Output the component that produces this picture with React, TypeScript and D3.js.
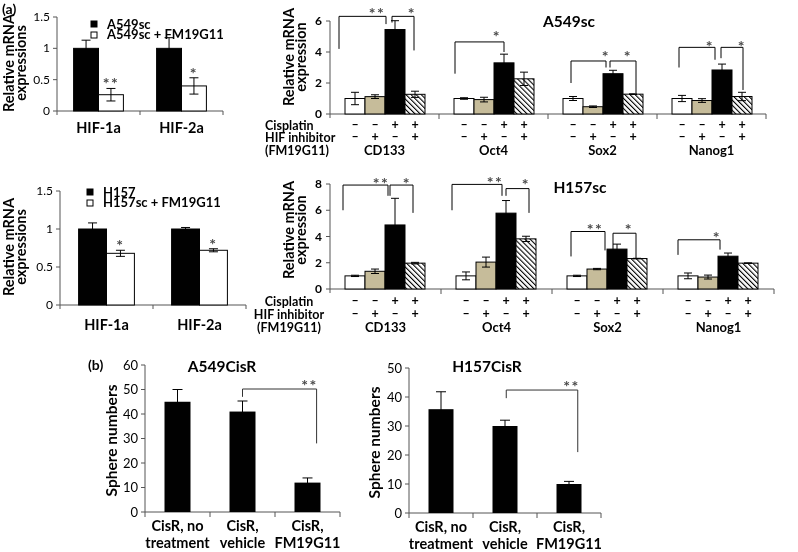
import React from "react";
import * as d3 from "d3";

const FONT = "Lato, 'Liberation Sans', Arial, sans-serif";

// ---------- Panel (a), left: HIF expression ----------
const hifGenes = ["HIF-1a", "HIF-2a"];
const hifTicks = [0, 0.5, 1, 1.5];
const a549Legend = ["A549sc", "A549sc + FM19G11"];
const a549Ctrl = [1.0, 1.0];
const a549CtrlErr = [0.13, 0.17];
const a549Fm = [0.26, 0.4];
const a549FmErr = [0.1, 0.13];
const a549HifStars = ["**", "*"];
const h157Legend = ["H157", "H157sc + FM19G11"];
const h157Ctrl = [1.0, 1.0];
const h157CtrlErr = [0.08, 0.02];
const h157Fm = [0.68, 0.72];
const h157FmErr = [0.04, 0.02];
const h157HifStars = ["*", "*"];

// ---------- Panel (a), right: stemness genes ----------
const stemGenes = ["CD133", "Oct4", "Sox2", "Nanog1"];
const conditions = ["control", "inhibitor", "cisplatin", "cisplatin+inhibitor"];
const cisplatinSigns = ["–", "–", "+", "+"];
const inhibitorSigns = ["–", "+", "–", "+"];
const rowLabels = ["Cisplatin", "HIF inhibitor", "(FM19G11)"];
const a549scTicks = [0, 2, 4, 6];
const a549scValues = [
  [1.0, 1.12, 5.45, 1.27],
  [1.0, 0.93, 3.3, 2.27],
  [1.0, 0.47, 2.6, 1.28],
  [1.0, 0.87, 2.84, 1.13],
];
const a549scErrors = [
  [0.4, 0.12, 0.57, 0.2],
  [0.05, 0.15, 0.56, 0.43],
  [0.13, 0.05, 0.22, 0.02],
  [0.2, 0.12, 0.38, 0.27],
];
// bracket: group, leg positions (in bar widths), top, leg bottoms, label, label position
const a549scBrackets = [
  { g: 0, x1: -0.3, x2: 2.05, top: 6.3, b1: 4.2, b2: 5.8, label: "**", lx: 1.6, ly: 6.7 },
  { g: 0, x1: 2.35, x2: 3.45, top: 6.3, b1: 5.9, b2: 4.1, label: "*", lx: 3.35, ly: 6.7 },
  { g: 1, x1: 0.05, x2: 2.5, top: 4.65, b1: 2.6, b2: 4.0, label: "*", lx: 2.15, ly: 5.2 },
  { g: 2, x1: 0.4, x2: 2.15, top: 3.42, b1: 2.0, b2: 3.0, label: "*", lx: 2.15, ly: 3.9 },
  { g: 2, x1: 2.35, x2: 3.65, top: 3.42, b1: 3.0, b2: 1.35, label: "*", lx: 3.25, ly: 3.9 },
  { g: 3, x1: 0.35, x2: 2.15, top: 4.3, b1: 3.0, b2: 3.5, label: "*", lx: 1.9, ly: 4.6 },
  { g: 3, x1: 2.45, x2: 3.55, top: 4.3, b1: 3.6, b2: 1.55, label: "*", lx: 3.5, ly: 4.6 },
];
const h157scTicks = [0, 2, 4, 6, 8];
const h157scValues = [
  [1.0, 1.35, 4.88, 1.97],
  [1.0, 2.05, 5.78, 3.82],
  [1.0, 1.52, 3.04, 2.32],
  [1.0, 0.91, 2.5, 1.97],
];
const h157scErrors = [
  [0.05, 0.17, 2.03, 0.06],
  [0.3, 0.38, 0.96, 0.2],
  [0.05, 0.05, 0.38, 0.02],
  [0.22, 0.15, 0.24, 0.02],
];
const h157scBrackets = [
  { g: 0, x1: -0.1, x2: 2.15, top: 7.92, b1: 6.0, b2: 7.1, label: "**", lx: 1.8, ly: 8.3 },
  { g: 0, x1: 2.25, x2: 3.4, top: 7.92, b1: 7.1, b2: 5.8, label: "*", lx: 3.1, ly: 8.3 },
  { g: 1, x1: -0.2, x2: 2.3, top: 7.97, b1: 6.0, b2: 7.1, label: "**", lx: 1.95, ly: 8.35 },
  { g: 1, x1: 2.5, x2: 3.65, top: 7.65, b1: 7.1, b2: 5.8, label: "*", lx: 3.5, ly: 8.2 },
  { g: 2, x1: 0.2, x2: 1.9, top: 4.38, b1: 2.48, b2: 2.94, label: "**", lx: 1.4, ly: 4.8 },
  { g: 2, x1: 2.3, x2: 3.45, top: 4.25, b1: 2.94, b2: 2.35, label: "*", lx: 3.1, ly: 4.75 },
  { g: 3, x1: 0.0, x2: 2.1, top: 3.75, b1: 2.6, b2: 3.0, label: "*", lx: 1.95, ly: 4.15 },
];

// ---------- Panel (b): sphere numbers ----------
const sphereCats = [["CisR, no", "treatment"], ["CisR,", "vehicle"], ["CisR,", "FM19G11"]];
const a549CisRTicks = [0, 10, 20, 30, 40, 50, 60];
const a549CisRValues = [45, 41, 12];
const a549CisRErrors = [5, 4.3, 1.9];
const a549CisRBracket = { i1: 1, f1: 0.5, i2: 2, f2: 0.85, top: 50.2, b1: 47, b2: 28, label: "**", li: 2, lf: 0.58, ly: 53 };
const h157CisRTicks = [0, 10, 20, 30, 40, 50];
const h157CisRValues = [35.8, 30, 10];
const h157CisRErrors = [6, 2, 0.9];
const h157CisRBracket = { i1: 1, f1: 0.55, i2: 2, f2: 0.85, top: 42.4, b1: 39.6, b2: 21, label: "**", li: 2, lf: 0.6, ly: 44.8 };

const TAN = "#c6bc9a";
const AXIS = "#555";
const STAR = "#4a4a4a";
const barFills = ["#fff", TAN, "#000", "url(#hatch)"];

function Stars({ x, y, text, size = 16 }: any) {
  return (
    <text x={x} y={y + size * 0.55} textAnchor="middle" fontSize={size} fontWeight="bold" fill={STAR} letterSpacing={1.5}>
      {text}
    </text>
  );
}

function ErrorBar({ x, yLo, yHi, cap }: any) {
  return (
    <g stroke="#000" strokeWidth={1}>
      <line x1={x} x2={x} y1={yLo} y2={yHi} />
      <line x1={x - cap / 2} x2={x + cap / 2} y1={yHi} y2={yHi} />
      <line x1={x - cap / 2} x2={x + cap / 2} y1={yLo} y2={yLo} />
    </g>
  );
}

function RotLabel({ x, y, lines, size, gap }: any) {
  return (
    <g>
      {lines.map((l: string, i: number) => (
        <text key={i} transform={`translate(${x + i * gap},${y}) rotate(-90)`} textAnchor="middle" fontSize={size} fontWeight="bold">
          {l}
        </text>
      ))}
    </g>
  );
}

function HifPanel({ ax, axEnd, y0, yTop, ctrl, ctrlErr, fm, fmErr, stars, legend, legX, legY, geneY, ylabX, ylabY }: any) {
  const y = d3.scaleLinear().domain([0, 1.5]).range([y0, yTop]);
  const x = d3.scaleBand().domain(hifGenes).range([ax, axEnd]);
  const bw = x.bandwidth() * 0.3;
  return (
    <g>
      <RotLabel x={ylabX} y={ylabY} lines={["Relative mRNA", "expressions"]} size={14.5} gap={12} />
      <line x1={ax} x2={ax} y1={y(1.5)} y2={y0} stroke={AXIS} />
      <line x1={ax} x2={axEnd} y1={y0} y2={y0} stroke={AXIS} />
      {hifTicks.map((t) => (
        <g key={t}>
          <line x1={ax - 4} x2={ax} y1={y(t)} y2={y(t)} stroke={AXIS} />
          <text x={ax - 7} y={y(t) + 4} textAnchor="end" fontSize={12}>{t}</text>
        </g>
      ))}
      {[ax, ax + x.bandwidth(), axEnd].map((t, i) => (
        <line key={i} x1={t} x2={t} y1={y0} y2={y0 + 4} stroke={AXIS} />
      ))}
      {hifGenes.map((g, i) => {
        const c = (x(g) as number) + x.bandwidth() / 2;
        return (
          <g key={g}>
            <rect x={c - bw} y={y(ctrl[i])} width={bw} height={y0 - y(ctrl[i])} fill="#000" stroke="#000" />
            <rect x={c} y={y(fm[i])} width={bw} height={y0 - y(fm[i])} fill="#fff" stroke="#000" />
            <ErrorBar x={c - bw / 2} yLo={y(ctrl[i] - ctrlErr[i])} yHi={y(ctrl[i] + ctrlErr[i])} cap={9} />
            <ErrorBar x={c + bw / 2} yLo={y(fm[i] - fmErr[i])} yHi={y(fm[i] + fmErr[i])} cap={9} />
            <Stars x={c + bw / 2} y={y(fm[i] + fmErr[i]) - 8} text={stars[i]} size={16} />
            <text x={c} y={geneY} textAnchor="middle" fontSize={14.5} fontWeight="bold">{g}</text>
          </g>
        );
      })}
      <rect x={legX} y={legY - 3} width={6} height={6} fill="#000" stroke="#000" />
      <text x={legX + 16} y={legY + 4.5} fontSize={13} fontWeight="bold">{legend[0]}</text>
      <rect x={legX} y={legY + 8} width={6} height={6} fill="#fff" stroke="#000" />
      <text x={legX + 16} y={legY + 15} fontSize={13} fontWeight="bold">{legend[1]}</text>
    </g>
  );
}

function StemPanel({ values, errors, brackets, ticks, yMax, title, titleX, titleY, ax, groupW, pad, barW, y0, yTop, rowY, rowAnchor, rowX, ylabY }: any) {
  const y = d3.scaleLinear().domain([0, yMax]).range([y0, yTop]);
  const x = d3.scaleBand().domain(stemGenes).range([ax, ax + groupW * 4]);
  const inner = d3.scaleBand().domain(conditions).range([pad, pad + barW * 4]);
  const bx = (g: number, f: number) => (x(stemGenes[g]) as number) + pad + f * barW;
  return (
    <g>
      <RotLabel x={ax - 36} y={ylabY} lines={["Relative mRNA", "expression"]} size={14.5} gap={12} />
      <text x={titleX} y={titleY + 5} textAnchor="middle" fontSize={15.5} fontWeight="bold">{title}</text>
      <line x1={ax} x2={ax} y1={y(yMax)} y2={y0 + 4} stroke={AXIS} />
      <line x1={ax} x2={ax + groupW * 4} y1={y0} y2={y0} stroke={AXIS} />
      {ticks.map((t: number) => (
        <g key={t}>
          <line x1={ax - 4} x2={ax} y1={y(t)} y2={y(t)} stroke={AXIS} />
          <text x={ax - 8} y={y(t) + 4} textAnchor="end" fontSize={12} fontWeight="bold">{t}</text>
        </g>
      ))}
      {stemGenes.map((g) => (
        <line key={g} x1={(x(g) as number) + groupW} x2={(x(g) as number) + groupW} y1={y0} y2={y0 + 5} stroke={AXIS} />
      ))}
      {stemGenes.map((g, gi) => (
        <g key={g}>
          {conditions.map((c, ci) => {
            const left = (x(g) as number) + (inner(c) as number);
            const v = values[gi][ci];
            const e = errors[gi][ci];
            return (
              <g key={c}>
                <rect x={left} y={y(v)} width={barW} height={y0 - y(v)} fill={barFills[ci]} stroke="#000" strokeWidth={1} />
                <ErrorBar x={left + barW / 2} yLo={y(v - e)} yHi={y(v + e)} cap={8} />
                <text x={left + barW / 2} y={rowY[0] + 4} textAnchor="middle" fontSize={12.5} fontWeight="bold">{cisplatinSigns[ci]}</text>
                <text x={left + barW / 2} y={rowY[1] + 4} textAnchor="middle" fontSize={12.5} fontWeight="bold">{inhibitorSigns[ci]}</text>
              </g>
            );
          })}
          <text x={(x(g) as number) + groupW / 2} y={rowY[2] + 4.5} textAnchor="middle" fontSize={13} fontWeight="bold">{g}</text>
        </g>
      ))}
      {rowLabels.map((l, i) => (
        <text key={l} x={rowX} y={rowY[i] + 4.5} textAnchor={rowAnchor} fontSize={12.5} fontWeight="bold">{l}</text>
      ))}
      {brackets.map((b: any, i: number) => (
        <g key={i}>
          <path
            d={`M${bx(b.g, b.x1)},${y(b.b1)}V${y(b.top)}H${bx(b.g, b.x2)}V${y(b.b2)}`}
            fill="none"
            stroke="#000"
            strokeWidth={1}
          />
          <Stars x={bx(b.g, b.lx)} y={y(b.ly)} text={b.label} size={16} />
        </g>
      ))}
    </g>
  );
}

function SpherePanel({ values, errors, ticks, yMax, bracket, title, titleX, titleY, ax, axEnd, y0, yTop, barW, ylabX }: any) {
  const y = d3.scaleLinear().domain([0, yMax]).range([y0, yTop]);
  const x = d3.scaleBand().domain(sphereCats.map((_, i) => String(i))).range([ax, axEnd]);
  const left = (i: number) => (x(String(i)) as number) + (x.bandwidth() - barW) / 2;
  const b = bracket;
  return (
    <g>
      <RotLabel x={ylabX} y={(y0 + yTop) / 2 + 2} lines={["Sphere numbers"]} size={15.5} gap={0} />
      <text x={titleX} y={titleY + 5} textAnchor="middle" fontSize={15.5} fontWeight="bold">{title}</text>
      <line x1={ax} x2={ax} y1={yTop} y2={y0} stroke={AXIS} />
      <line x1={ax} x2={axEnd} y1={y0} y2={y0} stroke={AXIS} />
      {ticks.map((t: number) => (
        <g key={t}>
          <line x1={ax - 4} x2={ax} y1={y(t)} y2={y(t)} stroke={AXIS} />
          <text x={ax - 7} y={y(t) + 4.5} textAnchor="end" fontSize={13}>{t}</text>
        </g>
      ))}
      {[0, 1, 2, 3].map((i) => {
        const t = ax + i * x.bandwidth();
        return <line key={i} x1={t} x2={t} y1={y0} y2={y0 + 5} stroke={AXIS} />;
      })}
      {values.map((v: number, i: number) => (
        <g key={i}>
          <rect x={left(i)} y={y(v)} width={barW} height={y0 - y(v)} fill="#000" />
          <ErrorBar x={left(i) + barW / 2} yLo={y(v - errors[i])} yHi={y(v + errors[i])} cap={10} />
          {sphereCats[i].map((l, k) => (
            <text key={k} x={left(i) + barW / 2} y={y0 + 19 + k * 17} textAnchor="middle" fontSize={14.5} fontWeight="bold">{l}</text>
          ))}
        </g>
      ))}
      <path
        d={`M${left(b.i1) + b.f1 * barW},${y(b.b1)}V${y(b.top)}H${left(b.i2) + b.f2 * barW}V${y(b.b2)}`}
        fill="none"
        stroke="#333"
        strokeWidth={1}
      />
      <Stars x={left(b.li) + b.lf * barW} y={y(b.ly)} text={b.label} size={16} />
    </g>
  );
}

export default function App() {
  return (
    <svg width={798} height={552} style={{ position: "absolute", left: 0, top: 0, background: "#fff" }} fontFamily={FONT}>
      <defs>
        <pattern id="hatch" patternUnits="userSpaceOnUse" width={3.6} height={3.6} patternTransform="rotate(-45)">
          <rect width={3.6} height={3.6} fill="#fff" />
          <line x1={0} y1={0} x2={0} y2={3.6} stroke="#000" strokeWidth={2.2} />
        </pattern>
      </defs>
      <rect width={798} height={552} fill="#fff" />
      <g opacity={0.999}>
        <text x={2} y={14} fontSize={14} fontWeight="bold">(a)</text>
        <text x={88} y={370} fontSize={14} fontWeight="bold">(b)</text>

        <HifPanel ax={57} axEnd={223} y0={111} yTop={17} ctrl={a549Ctrl} ctrlErr={a549CtrlErr} fm={a549Fm} fmErr={a549FmErr}
          stars={a549HifStars} legend={a549Legend} legX={91} legY={24} geneY={133} ylabX={14} ylabY={63} />
        <HifPanel ax={60} axEnd={246} y0={305} yTop={191} ctrl={h157Ctrl} ctrlErr={h157CtrlErr} fm={h157Fm} fmErr={h157FmErr}
          stars={h157HifStars} legend={h157Legend} legX={87} legY={192} geneY={330} ylabX={14} ylabY={247} />

        <StemPanel values={a549scValues} errors={a549scErrors} brackets={a549scBrackets} ticks={a549scTicks} yMax={6}
          title="A549sc" titleX={569} titleY={22} ax={330} groupW={109} pad={15} barW={20} y0={114} yTop={21}
          rowY={[125, 137, 150]} rowAnchor="start" rowX={265} ylabY={57} />
        <StemPanel values={h157scValues} errors={h157scErrors} brackets={h157scBrackets} ticks={h157scTicks} yMax={8}
          title="H157sc" titleX={580} titleY={188} ax={330} groupW={111} pad={15} barW={20} y0={289} yTop={184}
          rowY={[301, 314, 327]} rowAnchor="middle" rowX={289} ylabY={230} />

        <SpherePanel values={a549CisRValues} errors={a549CisRErrors} ticks={a549CisRTicks} yMax={60} bracket={a549CisRBracket}
          title="A549CisR" titleX={222} titleY={367} ax={145} axEnd={340} y0={512} yTop={365} barW={26} ylabX={117} />
        <SpherePanel values={h157CisRValues} errors={h157CisRErrors} ticks={h157CisRTicks} yMax={50} bracket={h157CisRBracket}
          title="H157CisR" titleX={487} titleY={367} ax={409} axEnd={601} y0={513} yTop={368} barW={25} ylabX={380} />
      </g>
    </svg>
  );
}
